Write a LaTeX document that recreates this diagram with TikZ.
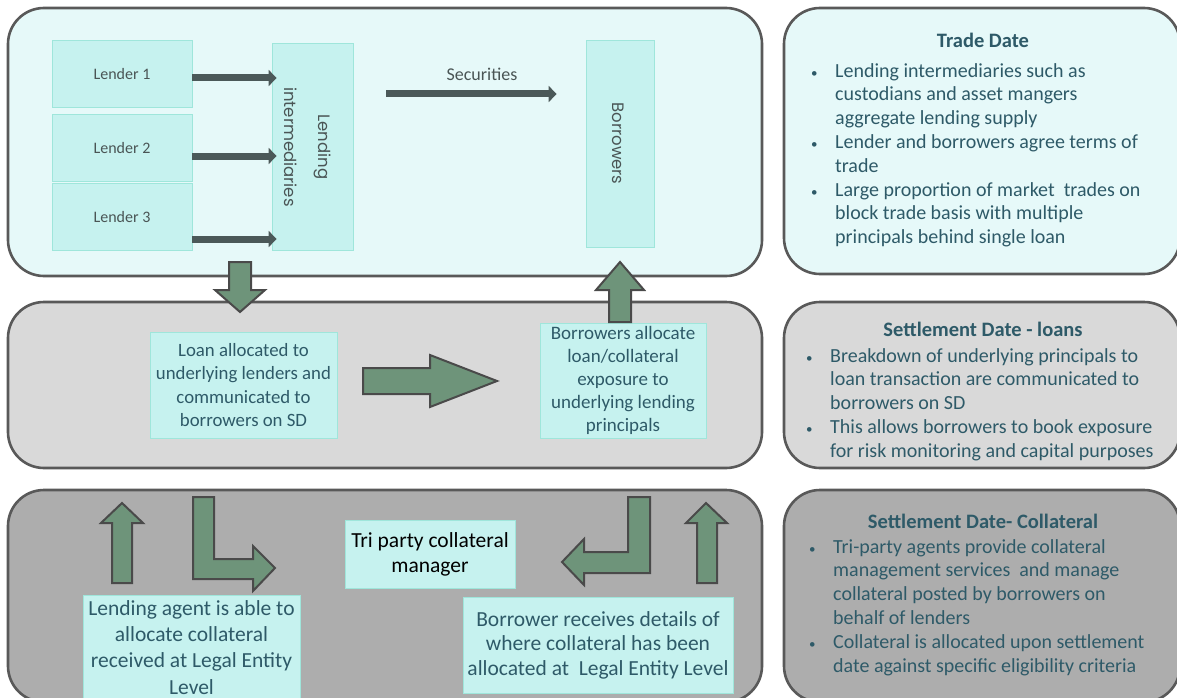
\documentclass[tikz,border=0pt]{standalone}
\usepackage{fontspec}
\setmainfont{Carlito}
\newfontfamily\wide{Poppins}
\usetikzlibrary{arrows.meta, positioning, calc}

\definecolor{tradebg}{HTML}{E6F9F9}
\definecolor{loanbg}{HTML}{D9D9D9}
\definecolor{collbg}{HTML}{ADADAD}
\definecolor{panelline}{HTML}{595959}
\definecolor{boxfill}{HTML}{C6F2EF}
\definecolor{boxline}{HTML}{9FE6DB}
\definecolor{tealtext}{HTML}{2E5A68}
\definecolor{greytext}{HTML}{4A5555}
\definecolor{darkarrow}{HTML}{4B5959}
\definecolor{blockgreen}{HTML}{6E947A}
\definecolor{blockline}{HTML}{4A4A4A}
\newcommand\dotitem{\hspace*{-2pt}{\fontsize{13}{13}\selectfont\textbullet}}

\begin{document}
\begin{tikzpicture}[x=1pt, y=-1pt,
  panel/.style={draw=panelline, line width=2.6pt, rounded corners=36pt},
  infobox/.style={fill=boxfill, draw=boxline, line width=0.8pt, inner sep=2pt,
                  align=center, text=tealtext},
  lender/.style={fill=boxfill, draw=boxline, line width=0.8pt, minimum width=140pt,
                 minimum height=67pt, text=greytext, font=\fontsize{16}{18}\selectfont},
  tall/.style={fill=boxfill, draw=boxline, line width=0.8pt, minimum width=207pt,
               rotate=-90},
  talltext/.style={rotate=-90, align=center, text=greytext,
                   font=\wide\fontsize{16.5}{34}\selectfont},
  thin/.style={draw=darkarrow, line width=7pt, -{Triangle[length=8pt,width=16pt]}},
  flow/.style={draw=blockline, line width=2pt, fill=blockgreen},
  title/.style={anchor=base, text=tealtext, font=\bfseries\fontsize{20.5}{24}\selectfont},
  notes/.style={anchor=north west, inner sep=0pt, text=tealtext,
                font=\fontsize{20}{23.8}\selectfont}]
  \useasboundingbox (0,0) rectangle (1177,698);
  % three stages on the left
  \node[panel, fill=tradebg, minimum width=754pt, minimum height=268pt] (tdpanel) at (385,142) {};
  \node[panel, fill=loanbg, minimum width=754pt, minimum height=166pt] (sdpanel) at (385,385) {};
  \node[panel, fill=collbg, minimum width=754pt, minimum height=212pt] (clpanel) at (385,596) {};
  % notes on the right
  \node[panel, fill=tradebg, minimum width=396pt, minimum height=266pt] (tdnote) at (982,141) {};
  \node[panel, fill=loanbg, minimum width=396pt, minimum height=166pt] (sdnote) at (982,385) {};
  \node[panel, fill=collbg, minimum width=396pt, minimum height=212pt] (clnote) at (982,596) {};

  % trade date
  \node[lender] (l1) at (122,74) {Lender 1};
  \node[lender] (l2) at (122,148) {Lender 2};
  \node[lender] (l3) at (122,217) {Lender 3};
  \node[tall, minimum height=81pt] (li) at (312.5,147) {};
  \node[talltext] (litext) at ($(li.center)+(-5,0)$) {Lending\\intermediaries};
  \node[tall, minimum height=68pt] (bo) at (620,143.5) {};
  \node[talltext] (botext) at ($(bo.center)+(-2,0)$) {Borrowers};
  \coordinate (sec) at (0,94);
  \node[text=greytext, font=\fontsize{18}{20}\selectfont] (seclbl) at (482,74) {Securities};
  \draw[thin, shorten >=-5pt] (l1.east |- 0,78) -- (li.south |- 0,78);
  \draw[thin, shorten >=-5pt] (l2.east |- 0,156) -- (li.south |- 0,156);
  \draw[thin, shorten >=-5pt] (l3.east |- 0,239) -- (li.south |- 0,239);
  \draw[thin, shorten <=33pt, shorten >=29pt] (li.north |- sec) -- (bo.south |- sec);

  % settlement date - loans
  \node[infobox, minimum width=187pt, minimum height=106pt,
        font=\fontsize{18.8}{23.3}\selectfont] (alloc) at (243.5,385)
        {Loan allocated to\\underlying lenders and\\communicated to\\borrowers on SD};
  \node[infobox, minimum width=166pt, minimum height=115pt,
        font=\fontsize{19}{23}\selectfont] (expo) at (623,380.5)
        {Borrowers allocate\\loan/collateral\\exposure to\\underlying lending\\principals};
  \draw[flow] (229,262) -- (251,262) -- (251,290) -- (265,290) -- (240,312)
    -- (215,290) -- (229,290) -- cycle;
  \draw[flow] (609,322) -- (609,290) -- (596,290) -- (620,262) -- (644,290)
    -- (631,290) -- (631,322) -- cycle;
  \draw[flow] (363,368) -- (430,368) -- (430,355) -- (497,381) -- (430,407)
    -- (430,394) -- (363,394) -- cycle;

  % settlement date - collateral
  \node[infobox, text=black, minimum width=170pt, minimum height=68pt,
        font=\fontsize{21.5}{25}\selectfont] (tri) at (430,554)
        {Tri party collateral\\manager};
  \node[infobox, anchor=north, minimum width=217pt, minimum height=104pt,
        font=\fontsize{21.5}{26.3}\selectfont] (agent) at (191.5,595)
        {Lending agent is able to\\allocate collateral\\received at Legal Entity\\Level};
  \node[infobox, minimum width=270pt, minimum height=96pt,
        font=\fontsize{21.5}{24.5}\selectfont] (recv) at (598,645)
        {Borrower receives details of\\where collateral has been\\allocated at~~Legal Entity Level};
  \draw[flow] (112,583) -- (112,523) -- (101,523) -- (122,503) -- (143,523)
    -- (132,523) -- (132,583) -- cycle;
  \draw[flow] (193,497) -- (214,497) -- (214,559) -- (253,559) -- (253,546)
    -- (275,568) -- (253,591) -- (253,579) -- (193,579) -- cycle;
  \draw[flow] (650,497) -- (628,497) -- (628,552) -- (584,552) -- (584,539)
    -- (562,562) -- (584,585) -- (584,573) -- (650,573) -- cycle;
  \draw[flow] (697,583) -- (697,523) -- (686,523) -- (706,503) -- (727,523)
    -- (717,523) -- (717,583) -- cycle;

  % notes text
  \node[title] (tdtitle) at (983,48) {Trade Date};
  \node[notes] (tdtext) at (813,60.3) {\begin{tabular}{@{}p{22pt}@{}l@{}}
    \dotitem & Lending intermediaries such as\\
     & custodians and asset mangers\\
     & aggregate lending supply\\
    \dotitem & Lender and borrowers agree terms of\\
     & trade\\
    \dotitem & Large proportion of market~~trades on\\
     & block trade basis with multiple\\
     & principals behind single loan
  \end{tabular}};
  \node[title] (sdtitle) at (983,336) {Settlement Date - loans};
  \node[notes] (sdtext) at (808,345.3) {\begin{tabular}{@{}p{22pt}@{}l@{}}
    \dotitem & Breakdown of underlying principals to\\
     & loan transaction are communicated to\\
     & borrowers on SD\\
    \dotitem & This allows borrowers to book exposure\\
     & for risk monitoring and capital purposes
  \end{tabular}};
  \node[title] (cltitle) at (983,528) {Settlement Date- Collateral};
  \node[notes] (cltext) at (811,536.3) {\begin{tabular}{@{}p{22pt}@{}l@{}}
    \dotitem & Tri-party agents provide collateral\\
     & management services~~and manage\\
     & collateral posted by borrowers on\\
     & behalf of lenders\\
    \dotitem & Collateral is allocated upon settlement\\
     & date against specific eligibility criteria
  \end{tabular}};
\end{tikzpicture}
\end{document}
